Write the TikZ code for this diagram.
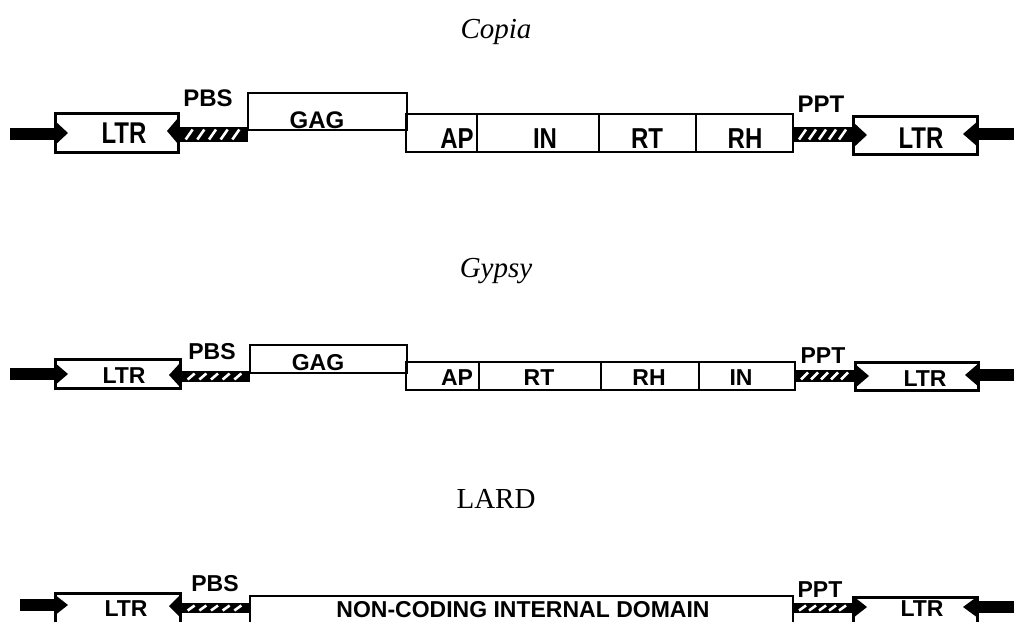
\documentclass[tikz,border=0pt]{standalone}
\usepackage{fontspec}
\setmainfont{Liberation Serif}
\newfontfamily\labfont{Liberation Sans}
\newcommand\hatchbar[4]{%
  \fill (#1,#3) rectangle (#2,#4);
  \foreach \i in {1,...,5}{%
    \pgfmathsetmacro\xa{#1+\i*(#2-#1)/6-4}%
    \draw[white,line width=2.6pt] (\xa,#4-2.5) -- (\xa+7,#3+2.5);
  }%
}
\newcommand\inwardtri[4]{% xbase xapex ycenter halfheight
  \fill (#1,#3-#4) -- (#2,#3) -- (#1,#3+#4) -- cycle;
}
\begin{document}
\begin{tikzpicture}[x=1pt,y=-1pt,
  ltrbox/.style={draw,line width=3pt,inner sep=0pt,outer sep=0pt},
  dombox/.style={draw,line width=2pt,inner sep=0pt,outer sep=0pt},
  lab/.style={font=\labfont\bfseries\fontsize{23}{23}\selectfont,inner sep=0pt},
  labc/.style={font=\labfont\bfseries\fontsize{24}{24}\selectfont,inner sep=0pt},
  ttl/.style={font=\fontsize{29}{29}\selectfont,anchor=base,inner sep=0pt}]
\useasboundingbox (0,0) rectangle (1014,621);
\clip (0,0) rectangle (1014,621);

% ---------------- Copia ----------------
\node[ttl] (tcopia) at (496,38) {\itshape Copia};
\fill (10,128) rectangle (56,140);
\node[ltrbox,minimum width=123pt,minimum height=39pt] (cltrL) at (116.5,132.5) {};
\inwardtri{54}{68}{133}{13}
\inwardtri{178}{167}{131}{13}
\hatchbar{178}{248}{127}{142}
\node[dombox,minimum width=159pt,minimum height=37pt] (cgag) at (327.5,111.5) {};
\node[dombox,minimum width=71pt,minimum height=38pt] (cap) at (441.5,133) {};
\node[dombox,minimum width=122pt,minimum height=38pt] (cin) at (538,133) {};
\node[dombox,minimum width=97pt,minimum height=38pt] (crt) at (647.5,133) {};
\node[dombox,minimum width=97pt,minimum height=38pt] (crh) at (744.5,133) {};
\hatchbar{793}{853}{127}{142}
\node[ltrbox,minimum width=124pt,minimum height=38pt] (cltrR) at (915,135) {};
\inwardtri{853}{867}{135}{13}
\inwardtri{978}{963}{134}{13}
\fill (976,128) rectangle (1014,140);
\node[labc] (cltrLt) at (124,133.5) {\scalebox{1}[1.25]{LTR}};
\node[labc] (cpbs) at (208,98.5) {PBS};
\node[labc] (cgagt) at (317,120) {GAG};
\node[labc] (capt) at (457,139) {\scalebox{1}[1.2]{AP}};
\node[labc] (cint) at (545,139) {\scalebox{1}[1.2]{IN}};
\node[labc] (crtt) at (647,139) {\scalebox{1}[1.2]{RT}};
\node[labc] (crht) at (745,139) {\scalebox{1}[1.2]{RH}};
\node[labc] (cppt) at (821,104) {PPT};
\node[labc] (cltrRt) at (921,138) {\scalebox{1}[1.25]{LTR}};

% ---------------- Gypsy ----------------
\node[ttl] (tgypsy) at (496,277) {\itshape Gypsy};
\fill (10,368) rectangle (56,380);
\node[ltrbox,minimum width=125pt,minimum height=29pt] (gltrL) at (117.5,373.5) {};
\inwardtri{54}{68}{374}{12}
\inwardtri{180}{169}{375}{12}
\hatchbar{180}{250}{371}{382}
\node[dombox,minimum width=157pt,minimum height=28pt] (ggag) at (328.5,359) {};
\node[dombox,minimum width=73pt,minimum height=28pt] (gap) at (442.5,376) {};
\node[dombox,minimum width=122pt,minimum height=28pt] (grt) at (540,376) {};
\node[dombox,minimum width=98pt,minimum height=28pt] (grh) at (650,376) {};
\node[dombox,minimum width=96pt,minimum height=28pt] (gin) at (747,376) {};
\hatchbar{795}{855}{370}{382}
\node[ltrbox,minimum width=123pt,minimum height=28pt] (gltrR) at (916.5,376) {};
\inwardtri{855}{869}{376}{12}
\inwardtri{979}{965}{375}{12}
\fill (977,369) rectangle (1014,381);
\node[lab] (gltrLt) at (124,376) {LTR};
\node[lab] (gpbs) at (212,352) {PBS};
\node[lab] (ggagt) at (318,363) {GAG};
\node[lab] (gapt) at (457,378) {AP};
\node[lab] (grtt) at (539,378) {RT};
\node[lab] (grht) at (649,378) {RH};
\node[lab] (gint) at (741,378) {IN};
\node[lab] (gppt) at (823,356) {PPT};
\node[lab] (gltrRt) at (925,379) {LTR};

% ---------------- LARD ----------------
\node[ttl] (tlard) at (496,508) {LARD};
\fill (20,599) rectangle (56,611);
\node[ltrbox,minimum width=125pt,minimum height=30pt] (lltrL) at (117.5,608) {};
\inwardtri{54}{68}{605}{11}
\inwardtri{180}{169}{606}{11}
\hatchbar{180}{250}{603}{613}
\node[dombox,minimum width=543pt,minimum height=30pt] (lnc) at (521.5,611) {};
\hatchbar{793}{853}{603}{613}
\node[ltrbox,minimum width=124pt,minimum height=30pt] (lltrR) at (915,612) {};
\inwardtri{853}{867}{607}{11}
\inwardtri{978}{963}{607}{11}
\fill (976,601) rectangle (1014,613);
\node[lab] (lltrLt) at (126,609) {LTR};
\node[lab] (lpbs) at (215,583.5) {PBS};
\node[lab] (lnct) at (523,609.5) {NON-CODING INTERNAL DOMAIN};
\node[lab] (lppt) at (820,590) {PPT};
\node[lab] (lltrRt) at (922,609) {LTR};
\end{tikzpicture}
\end{document}
